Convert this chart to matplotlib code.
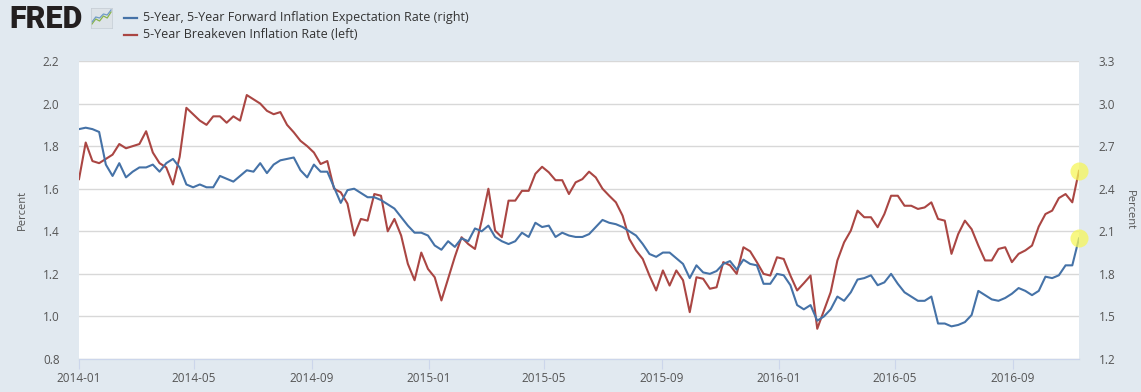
import numpy as np
import pandas as pd
import matplotlib
matplotlib.use("Agg")
import matplotlib.pyplot as plt
import matplotlib.dates as mdates

plt.rcParams['font.family'] = ['Open Sans', 'DejaVu Sans']

# weekly readings, starting 2014-01-01
dates = pd.date_range('2014-01-01', periods=150, freq='7D')

# 5-Year Breakeven Inflation Rate (left axis, percent)
breakeven = [
    1.645, 1.817, 1.73, 1.72, 1.74, 1.76, 1.81, 1.79, 1.80, 1.81, 1.87, 1.77, 1.72,
    1.70, 1.62, 1.75, 1.98, 1.95, 1.92, 1.90, 1.94, 1.94, 1.91, 1.94, 1.92, 2.04,
    2.02, 2.00, 1.966, 1.95, 1.96, 1.90, 1.865, 1.825, 1.80, 1.77, 1.716, 1.73,
    1.60, 1.583, 1.53, 1.38, 1.458, 1.45, 1.575, 1.567, 1.40, 1.458, 1.38, 1.247,
    1.17, 1.30, 1.223, 1.184, 1.075, 1.177, 1.28, 1.372, 1.34, 1.317, 1.45, 1.60,
    1.403, 1.372, 1.544, 1.544, 1.59, 1.59, 1.67, 1.703, 1.677, 1.64, 1.64, 1.575, 1.63,
    1.645, 1.68, 1.653, 1.60, 1.567, 1.536, 1.473, 1.364, 1.31, 1.27, 1.192, 1.122,
    1.216, 1.145, 1.216, 1.17, 1.02, 1.184, 1.177, 1.13, 1.137, 1.255, 1.24, 1.20, 1.325,
    1.306, 1.255, 1.20, 1.192, 1.278, 1.27, 1.192, 1.122, 1.156, 1.192, 0.942, 1.028,
    1.114, 1.263, 1.348, 1.403, 1.497, 1.466, 1.466, 1.419, 1.481, 1.567, 1.567, 1.52, 1.52,
    1.505, 1.512, 1.536, 1.458, 1.45, 1.294, 1.387, 1.45, 1.41, 1.333, 1.263, 1.263,
    1.317, 1.325, 1.255, 1.294, 1.31, 1.333, 1.422, 1.481, 1.497, 1.556, 1.575, 1.536, 1.684,
]

# 5-Year, 5-Year Forward Inflation Expectation Rate (right axis, percent)
forward = [
    2.82, 2.83, 2.82, 2.80, 2.57, 2.49, 2.58, 2.48, 2.52, 2.55, 2.55, 2.57, 2.52,
    2.58, 2.61, 2.55, 2.43, 2.41, 2.43, 2.41, 2.41, 2.49, 2.47, 2.45, 2.49, 2.53,
    2.52, 2.58, 2.51, 2.57, 2.60, 2.61, 2.62, 2.53, 2.48, 2.57, 2.52, 2.52,
    2.41, 2.30, 2.39, 2.40, 2.37, 2.34, 2.34, 2.32, 2.29, 2.26, 2.20, 2.14,
    2.09, 2.09, 2.07, 2.00, 1.97, 2.03, 1.99, 2.05, 2.03, 2.12, 2.10, 2.14,
    2.06, 2.03, 2.01, 2.03, 2.09, 2.06, 2.16, 2.13, 2.14, 2.06, 2.09, 2.07, 2.06,
    2.06, 2.08, 2.13, 2.18, 2.16, 2.15, 2.13, 2.10, 2.07, 2.01, 1.94, 1.92,
    1.95, 1.95, 1.91, 1.87, 1.77, 1.86, 1.81, 1.80, 1.82, 1.87, 1.89, 1.83, 1.90,
    1.87, 1.86, 1.73, 1.73, 1.80, 1.79, 1.72, 1.58, 1.55, 1.58, 1.47, 1.50,
    1.55, 1.64, 1.61, 1.67, 1.76, 1.77, 1.79, 1.72, 1.74, 1.80, 1.73, 1.67, 1.64,
    1.61, 1.61, 1.64, 1.45, 1.45, 1.43, 1.44, 1.46, 1.51, 1.68, 1.65, 1.62,
    1.61, 1.63, 1.66, 1.70, 1.68, 1.65, 1.68, 1.78, 1.77, 1.79, 1.86, 1.86, 2.05,
]

left_ticks = [0.8, 1.0, 1.2, 1.4, 1.6, 1.8, 2.0, 2.2]
right_ticks = [1.2, 1.5, 1.8, 2.1, 2.4, 2.7, 3.0, 3.3]

# little chart icon next to the FRED mark
logo_green = [0.2, 0.45, 0.35, 0.6, 0.5, 0.8]
logo_blue = [0.3, 0.55, 0.5, 0.7, 0.65, 0.9]

bg = '#e1e9f0'
red = '#aa4643'
blue = '#4572a7'
txt = '#555555'

fig = plt.figure(figsize=(11.41, 3.92), dpi=100, facecolor=bg)
ax = fig.add_axes([79/1141, 1-359/392, 1000/1141, 298/392])
ax.set_facecolor('white')
ax2 = ax.twinx()

ax.plot(dates, breakeven, color=red, lw=1.5)
ax2.plot(dates, forward, color=blue, lw=1.5)
# highlight last observations
ax.plot(dates[-1:], breakeven[-1:], 'o', ms=13, color='#f6f65a', alpha=0.75, mec='none',
        clip_on=False)
ax2.plot(dates[-1:], forward[-1:], 'o', ms=13, color='#f6f65a', alpha=0.75, mec='none',
         clip_on=False)

ax.set_ylim(0.8, 2.2)
ax.set_yticks(left_ticks)
ax.set_yticklabels(['%.1f' % v for v in left_ticks])
ax2.set_ylim(1.2, 3.3)
ax2.set_yticks(right_ticks)
ax2.set_yticklabels(['%.1f' % v for v in right_ticks])
ax.set_xlim(dates[0], dates[-1])

ax.xaxis.set_major_locator(mdates.MonthLocator(bymonth=[1, 5, 9]))
ax.xaxis.set_major_formatter(mdates.DateFormatter('%Y-%m'))

ax.grid(axis='y', color='#d8d8d8', lw=1)
ax.set_axisbelow(True)
for a in (ax, ax2):
    for s in ('top', 'left', 'right'):
        a.spines[s].set_visible(False)
    a.spines['bottom'].set_color('#ccd6eb')
ax.tick_params(axis='x', length=7, color='#ccd6eb', labelsize=8.5, labelcolor=txt, pad=2)
ax.tick_params(axis='y', length=0, labelsize=8.5, labelcolor=txt, pad=14)
ax2.tick_params(axis='y', length=0, labelsize=8.5, labelcolor=txt, pad=14)
ax.set_ylabel('Percent', fontsize=8, color=txt, va='center')
ax.yaxis.set_label_coords(-0.057, 0.5)
ax2.set_ylabel('Percent', fontsize=8, color=txt, rotation=270, va='center')
ax2.yaxis.set_label_coords(1.05, 0.5)

# header: FRED mark and legend
fig.text(9/1141, 1-19/392, 'FRED', fontsize=22, fontweight='black', family='Roboto',
         color='#231f20', va='center', ha='left')
logo = fig.add_axes([91/1141, 1-28/392, 21/1141, 20/392])
logo.set_facecolor('#dde3e8')
logo.plot(logo_green, color='#8ab54a', lw=0.9)
logo.plot(logo_blue, color='#6f9bc6', lw=0.9)
logo.set_ylim(0, 1)
logo.set_xticks([])
logo.set_yticks([])
for s in logo.spines.values():
    s.set_color('#c4ccd3')
    s.set_linewidth(0.5)
fig.lines.append(plt.Line2D([124/1141, 137/1141], [1-18/392, 1-18/392], color=blue, lw=1.6,
                            transform=fig.transFigure))
fig.lines.append(plt.Line2D([124/1141, 137/1141], [1-35/392, 1-35/392], color=red, lw=1.6,
                            transform=fig.transFigure))
fig.text(143/1141, 1-18/392, '5-Year, 5-Year Forward Inflation Expectation Rate (right)',
         fontsize=9, color='#333333', va='center')
fig.text(143/1141, 1-35/392, '5-Year Breakeven Inflation Rate (left)',
         fontsize=9, color='#333333', va='center')

fig.savefig('out.png', dpi=100, facecolor=bg)
